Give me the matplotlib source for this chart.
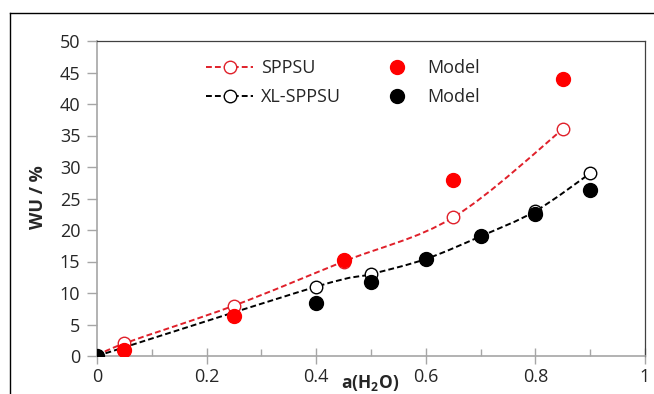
import numpy as np
import matplotlib
matplotlib.use("Agg")
import matplotlib.pyplot as plt
from matplotlib.path import Path
from matplotlib.patches import PathPatch
from matplotlib.lines import Line2D
from matplotlib.ticker import MultipleLocator

plt.rcParams['font.family'] = ['Open Sans', 'DejaVu Sans']

# ---- data ----
sppsu_x = [0.0, 0.05, 0.25, 0.45, 0.65, 0.85]
sppsu_y = [0.0, 2.0, 8.0, 15.0, 22.0, 36.0]
sppsu_model_x = [0.05, 0.25, 0.45, 0.65, 0.85]
sppsu_model_y = [1.0, 6.3, 15.2, 27.9, 44.0]

xl_x = [0.0, 0.4, 0.5, 0.6, 0.7, 0.8, 0.9]
xl_y = [0.0, 11.0, 13.0, 15.4, 19.0, 23.0, 29.0]
xl_model_x = [0.0, 0.4, 0.5, 0.6, 0.7, 0.8, 0.9]
xl_model_y = [0.0, 8.4, 11.8, 15.4, 19.0, 22.6, 26.4]

x_ticks = [0, 0.2, 0.4, 0.6, 0.8, 1]
x_tick_labels = ['0', '0.2', '0.4', '0.6', '0.8', '1']
y_ticks = [0, 5, 10, 15, 20, 25, 30, 35, 40, 45, 50]

RED_LINE = '#e0202a'
RED_FILL = '#ff0000'
TXT = '#262626'


def smooth_path(xs, ys):
    """Excel-like smoothed line built as cubic Bezier segments."""
    p = np.column_stack([xs, ys]).astype(float)
    n = len(p)
    verts = [tuple(p[0])]
    codes = [Path.MOVETO]
    for i in range(n - 1):
        p0 = p[i - 1] if i > 0 else p[i]
        p1 = p[i]
        p2 = p[i + 1]
        p3 = p[i + 2] if i + 2 < n else p[i + 1]
        c1 = p1 + (p2 - p0) / 6.0
        c2 = p2 - (p3 - p1) / 6.0
        verts += [tuple(c1), tuple(c2), tuple(p2)]
        codes += [Path.CURVE4] * 3
    return Path(verts, codes)


fig = plt.figure(figsize=(6.54, 3.94), dpi=100)
ax = fig.add_axes([97 / 654, 38 / 394, (645 - 97) / 654, (356 - 41) / 394])

dash = (0, (3, 1.6))
for xs, ys, col in [(sppsu_x, sppsu_y, RED_LINE), (xl_x, xl_y, 'black')]:
    ax.add_patch(PathPatch(smooth_path(xs, ys), fill=False, edgecolor=col,
                           lw=1.4, linestyle=dash, zorder=2))

ax.plot(sppsu_x, sppsu_y, ls='none', marker='o', ms=9, mfc='white',
        mec=RED_LINE, mew=1.0, zorder=3)
ax.plot(xl_x, xl_y, ls='none', marker='o', ms=9, mfc='white',
        mec='black', mew=1.0, zorder=3)
ax.plot(sppsu_model_x, sppsu_model_y, ls='none', marker='o', ms=10,
        color=RED_FILL, zorder=4)
ax.plot(xl_model_x, xl_model_y, ls='none', marker='o', ms=10,
        color='black', zorder=4)

ax.set_xlim(0, 1)
ax.set_ylim(0, 50)
ax.set_xticks(x_ticks)
ax.set_xticklabels(x_tick_labels)
ax.xaxis.set_minor_locator(MultipleLocator(0.1))
ax.set_yticks(y_ticks)

for s in ['left', 'bottom']:
    ax.spines[s].set_color('#a6a6a6')
    ax.spines[s].set_linewidth(1.2)
for s in ['top', 'right']:
    ax.spines[s].set_color('#404040')
    ax.spines[s].set_linewidth(0.9)

ax.tick_params(axis='y', which='major', direction='out', length=7,
               width=1.0, color='#a6a6a6', labelsize=13, pad=5,
               labelcolor=TXT)
ax.tick_params(axis='x', which='major', direction='inout', length=11,
               width=1.0, color='#a6a6a6', labelsize=13, pad=3,
               labelcolor=TXT)
ax.tick_params(axis='x', which='minor', direction='in', length=5,
               width=1.0, color='#a6a6a6')

fig.text(38 / 654, 1 - 197 / 394, 'WU / %', rotation=90, ha='center',
         va='center', fontsize=13, fontweight='bold', color=TXT)
fig.text(370 / 654, 1 - 383 / 394, 'a(H$_\\mathregular{2}$O)', ha='center',
         va='center', fontsize=12.5, fontweight='bold', color=TXT)

# outer chart frame (left and top edges visible)
fig.add_artist(Line2D([10 / 654, 10 / 654], [0, 1 - 13 / 394],
                      transform=fig.transFigure, color='black', lw=1.0))
fig.add_artist(Line2D([10 / 654, 1], [1 - 13 / 394, 1 - 13 / 394],
                      transform=fig.transFigure, color='black', lw=1.0))

handles = [
    Line2D([], [], color=RED_LINE, ls=dash, lw=1.4, marker='o', ms=9,
           mfc='white', mec=RED_LINE, mew=1.0),
    Line2D([], [], color='black', ls=dash, lw=1.4, marker='o', ms=9,
           mfc='white', mec='black', mew=1.0),
    Line2D([], [], color=RED_FILL, ls='none', marker='o', ms=10),
    Line2D([], [], color='black', ls='none', marker='o', ms=10),
]
labels = ['SPPSU', 'XL-SPPSU', 'Model', 'Model']
ax.legend(handles, labels, ncol=2, frameon=False, fontsize=13,
          loc='upper left', bbox_to_anchor=(0.17, 0.995), handlelength=2.6,
          columnspacing=1.8, labelspacing=0.62, handletextpad=0.4,
          labelcolor=TXT)

fig.savefig('out.png', dpi=100)
